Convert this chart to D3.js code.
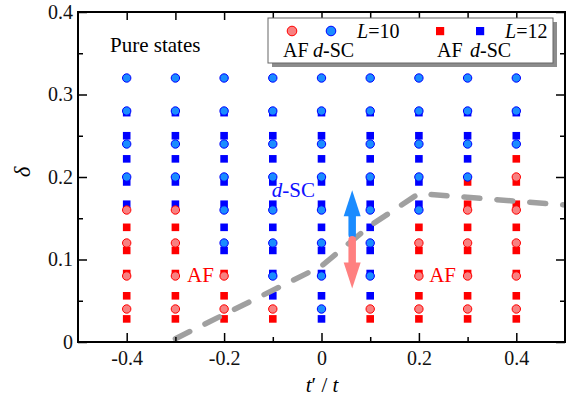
<!DOCTYPE html>
<html>
<head>
<meta charset="utf-8">
<script src="https://cdn.jsdelivr.net/npm/d3@7"></script>
<style>
body { margin: 0; background: #fff; }
svg { display: block; font-family: "Liberation Serif", "Times New Roman", serif; }
</style>
</head>
<body>
<script>
var tValues = [-0.4, -0.3, -0.2, -0.1, 0, 0.1, 0.2, 0.3, 0.4];
var deltaL10 = [0.04, 0.08, 0.12, 0.16, 0.20, 0.24, 0.28, 0.32];
var deltaL12 = [0.028, 0.056, 0.083, 0.111, 0.139, 0.167, 0.194, 0.222, 0.250, 0.278];
// how many points from the bottom of each column are AF, the rest are d-SC
var afCountL10 = [4, 4, 2, 1, 0, 1, 3, 4, 5];
var afCountL12 = [5, 5, 3, 1, 0, 1, 5, 7, 8];
// dashed phase boundary
var boundaryT = [-0.3, 0, 0.1, 0.2, 0.5];
var boundaryDelta = [0.004, 0.092, 0.141, 0.180, 0.166];
// arrows
var arrowT = 0.063;
var arrowUp = [0.130, 0.184];
var arrowDown = [0.124, 0.065];
var xTicks = [-0.4, -0.2, 0, 0.2, 0.4];
var xMinor = [-0.3, -0.1, 0.1, 0.3];
var yTicks = [0, 0.1, 0.2, 0.3, 0.4];
var yMinor = [0.05, 0.15, 0.25, 0.35];

var W = 572, H = 398;
var pLeft = 78, pRight = 565, pTop = 12, pBottom = 342;

var svg = d3.select("body").append("svg")
    .attr("width", W)
    .attr("height", H);

var x = d3.scaleLinear().domain([-0.5, 0.5]).range([pLeft, pRight]);
var y = d3.scaleLinear().domain([0, 0.4]).range([pBottom, pTop]);

var red = "#ff0000", blue = "#0000ff";
var redFill = "#f88080", blueFill = "#1a8cff";

svg.append("clipPath").attr("id", "plot")
    .append("rect")
    .attr("x", pLeft).attr("y", pTop)
    .attr("width", pRight - pLeft).attr("height", pBottom - pTop);

var pts10 = [], pts12 = [];
tValues.forEach(function(t, i) {
    deltaL10.forEach(function(d, j) {
        pts10.push({t: t, d: d, af: j < afCountL10[i]});
    });
    deltaL12.forEach(function(d, j) {
        pts12.push({t: t, d: d, af: j < afCountL12[i]});
    });
});

var sq = 7.6;
svg.append("g").selectAll("rect")
    .data(pts12)
    .enter()
    .append("rect")
    .attr("x", function(d) { return x(d.t) - sq / 2; })
    .attr("y", function(d) { return y(d.d) - sq / 2; })
    .attr("width", sq)
    .attr("height", sq)
    .style("fill", function(d) { return d.af ? red : blue; });

svg.append("g").selectAll("circle")
    .data(pts10)
    .enter()
    .append("circle")
    .attr("cx", function(d) { return x(d.t); })
    .attr("cy", function(d) { return y(d.d); })
    .attr("r", 4.2)
    .style("fill", function(d) { return d.af ? redFill : blueFill; })
    .style("stroke", function(d) { return d.af ? red : blue; })
    .style("stroke-width", 1);

// phase boundary
var line = d3.line()
    .x(function(d) { return x(d[0]); })
    .y(function(d) { return y(d[1]); });

svg.append("path")
    .datum(d3.zip(boundaryT, boundaryDelta))
    .attr("clip-path", "url(#plot)")
    .attr("d", line)
    .style("fill", "none")
    .style("stroke", "#a0a0a0")
    .style("stroke-width", 5.5)
    .style("stroke-linecap", "round")
    .style("stroke-dasharray", "16,17");

// arrows
function arrow(from, to, color) {
    var cx = x(arrowT), y0 = y(from), y1 = y(to);
    var dir = y1 < y0 ? -1 : 1;
    var head = 26;
    var yh = y1 - dir * head;
    svg.append("line")
        .attr("x1", cx).attr("x2", cx)
        .attr("y1", y0).attr("y2", yh)
        .style("stroke", color)
        .style("stroke-width", 7.5)
        .style("stroke-linecap", "round");
    svg.append("path")
        .attr("d", "M" + (cx - 8.5) + "," + yh + "L" + (cx + 8.5) + "," + yh + "L" + cx + "," + y1 + "Z")
        .style("fill", color);
}
arrow(arrowUp[0], arrowUp[1], "#1a8cff");
arrow(arrowDown[0], arrowDown[1], "#ff8080");

// phase labels
var dsc = svg.append("text")
    .attr("x", x(-0.102)).attr("y", y(0.176))
    .attr("font-size", 21)
    .attr("fill", "#1010ff");
dsc.append("tspan").attr("font-style", "italic").text("d");
dsc.append("tspan").text("-SC");

[-0.276, 0.221].forEach(function(t) {
    svg.append("text")
        .attr("x", x(t)).attr("y", y(0.073))
        .attr("font-size", 21)
        .attr("fill", red)
        .text("AF");
});

svg.append("text")
    .attr("x", 110).attr("y", 52)
    .attr("font-size", 21)
    .text("Pure states");

// axes
function fmt(d) { return d === 0 ? "0" : d.toFixed(1); }

function styleAxis(g) {
    g.select(".domain").remove();
    g.attr("font-family", "Liberation Serif").attr("font-size", 20);
    g.selectAll(".tick line").style("stroke-width", 1.5);
    g.selectAll(".tick text").attr("fill", "#111");
}

svg.append("g")
    .attr("transform", "translate(" + pLeft + ",0)")
    .call(d3.axisLeft(y).tickValues(yTicks).tickSize(-9).tickPadding(5).tickFormat(fmt))
    .call(styleAxis);
svg.append("g")
    .attr("transform", "translate(" + pLeft + ",0)")
    .call(d3.axisLeft(y).tickValues(yMinor).tickSize(-5).tickFormat(""))
    .call(styleAxis);
svg.append("g")
    .attr("transform", "translate(" + pRight + ",0)")
    .call(d3.axisRight(y).tickValues(yTicks).tickSize(-9).tickFormat(""))
    .call(styleAxis);
svg.append("g")
    .attr("transform", "translate(" + pRight + ",0)")
    .call(d3.axisRight(y).tickValues(yMinor).tickSize(-5).tickFormat(""))
    .call(styleAxis);

svg.append("g")
    .attr("transform", "translate(0," + pBottom + ")")
    .call(d3.axisBottom(x).tickValues(xTicks).tickSize(-9).tickPadding(9).tickFormat(fmt))
    .call(styleAxis);
svg.append("g")
    .attr("transform", "translate(0," + pBottom + ")")
    .call(d3.axisBottom(x).tickValues(xMinor).tickSize(-5).tickFormat(""))
    .call(styleAxis);
svg.append("g")
    .attr("transform", "translate(0," + pTop + ")")
    .call(d3.axisTop(x).tickValues(xTicks.concat(xMinor)).tickSize(-8).tickFormat(""))
    .call(styleAxis);

// legend, drawn over the top ticks
var lg = svg.append("g");
lg.append("rect")
    .attr("x", 272).attr("y", 22).attr("width", 285).attr("height", 45)
    .style("fill", "#8c8c8c");
lg.append("rect")
    .attr("x", 268).attr("y", 18).attr("width", 285).attr("height", 45)
    .style("fill", "#fff")
    .style("stroke", "#666")
    .style("stroke-width", 1);

lg.append("circle").attr("cx", 292).attr("cy", 31).attr("r", 4.8)
    .style("fill", redFill).style("stroke", red);
lg.append("circle").attr("cx", 331).attr("cy", 31).attr("r", 4.8)
    .style("fill", blueFill).style("stroke", blue);
lg.append("rect").attr("x", 436).attr("y", 27).attr("width", 8.2).attr("height", 8.2)
    .style("fill", red);
lg.append("rect").attr("x", 476).attr("y", 27).attr("width", 8.2).attr("height", 8.2)
    .style("fill", blue);

function sizeLabel(xp, n) {
    var t = lg.append("text").attr("x", xp).attr("y", 38).attr("font-size", 20);
    t.append("tspan").attr("font-style", "italic").text("L");
    t.append("tspan").text("=" + n);
}
sizeLabel(357, 10);
sizeLabel(505, 12);

function phaseLabels(xAf, xSc) {
    lg.append("text").attr("x", xAf).attr("y", 57).attr("font-size", 20).text("AF");
    var t = lg.append("text").attr("x", xSc).attr("y", 57).attr("font-size", 20);
    t.append("tspan").attr("font-style", "italic").text("d");
    t.append("tspan").text("-SC");
}
phaseLabels(283, 313);
phaseLabels(437, 470);

svg.append("rect")
    .attr("x", pLeft).attr("y", pTop)
    .attr("width", pRight - pLeft).attr("height", pBottom - pTop)
    .style("fill", "none")
    .style("stroke", "#000")
    .style("stroke-width", 2);

// axis titles
svg.append("text")
    .attr("transform", "translate(30,172) rotate(-90)")
    .attr("text-anchor", "middle")
    .attr("font-size", 23)
    .attr("font-style", "italic")
    .text("δ");

var xt = svg.append("text")
    .attr("x", 322).attr("y", 392)
    .attr("text-anchor", "middle")
    .attr("font-size", 21);
xt.append("tspan").attr("font-style", "italic").text("t");
xt.append("tspan").text("′ / ");
xt.append("tspan").attr("font-style", "italic").text("t");
</script>
</body>
</html>
